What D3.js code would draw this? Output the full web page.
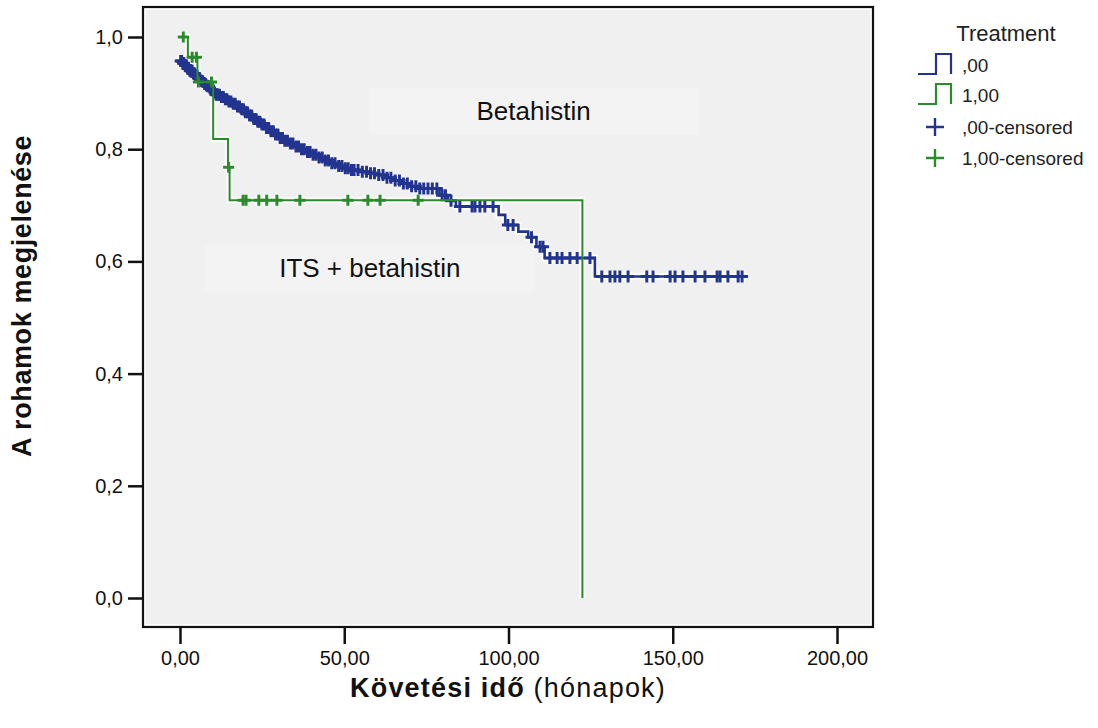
<!DOCTYPE html>
<html><head><meta charset="utf-8">
<script src="https://cdn.jsdelivr.net/npm/d3@7"></script>
<style>body{margin:0;background:#fff;} svg{display:block;font-family:"Liberation Sans",Arial,sans-serif;}</style>
</head><body><svg id="c" width="1098" height="728"></svg>
<script>
// ---- data ----
const xTicks = [0, 50, 100, 150, 200];
const yTicks = [0, 0.2, 0.4, 0.6, 0.8, 1.0];
const groupLabels = [",00", "1,00", ",00-censored", "1,00-censored"];
const annotations = ["Betahistin", "ITS + betahistin"];

const blueTimes = [0,0.8,1.5,2.2,3.0,3.8,4.6,5.5,6.3,7.2,8.0,9.0,10.0,11.0,12.2,13.4,14.5,15.7,17.0,18.3,19.5,20.8,22.0,23.2,24.5,25.8,27.2,28.6,30.0,31.6,33.2,34.8,36.5,38.2,40.0,41.8,43.6,45.5,47.5,49.5,52.0,54.5,57.0,59.5,62.0,64.5,67.0,69.5,72.0,79.0,81.5,84.0,97.0,99.0,103.0,106.0,108.5,111.0,126.3,172.0];
const blueSurv  = [0.957,0.953,0.949,0.944,0.940,0.935,0.930,0.926,0.921,0.916,0.912,0.906,0.901,0.897,0.893,0.889,0.885,0.881,0.876,0.871,0.866,0.860,0.854,0.849,0.844,0.838,0.832,0.826,0.820,0.815,0.810,0.805,0.800,0.795,0.790,0.785,0.780,0.775,0.770,0.766,0.763,0.760,0.757,0.754,0.749,0.744,0.739,0.734,0.730,0.718,0.708,0.698,0.683,0.665,0.653,0.643,0.626,0.606,0.573,0.573];
const blueCensor = [0.2,0.5,0.9,1.2,1.6,1.9,2.3,2.6,3.0,3.3,3.7,4.1,4.4,4.8,5.2,5.8,6.0,6.6,6.9,7.5,7.8,8.4,8.8,9.4,9.9,10.5,11.0,11.5,12.0,12.6,13.2,13.8,14.3,14.9,15.5,16.2,16.8,17.5,18.1,18.8,19.3,19.9,20.5,21.2,21.8,22.5,23.1,23.7,24.3,25.0,25.6,26.3,27.0,27.7,28.4,29.1,29.8,30.5,31.2,31.9,32.7,33.6,34.4,35.3,36.1,37.0,37.8,38.8,39.6,40.5,41.4,42.3,43.3,44.2,45.2,46.2,47.2,48.3,49.3,50.3,51.2,52.2,53.0,54.2,55.5,56.8,58.0,59.2,60.5,61.8,63.0,64.2,65.5,66.8,68.0,69.2,70.5,71.8,73.0,74.2,75.5,76.8,78.2,79.8,80.8,82.5,85.2,88.9,89.8,91.3,92.8,95.3,99.8,101.4,107.0,109.6,110.5,112.6,114.8,116.3,118.7,120.9,124.8,128.4,130.9,132.4,133.9,136.4,142.1,144.0,149.2,150.7,153.1,156.8,159.8,163.5,164.4,166.8,169.9,171.1];

const greenTimes = [0, 2.4, 5.3, 10.1, 14.6, 15.1, 122.5];
const greenSurv  = [1.0, 0.964, 0.920, 0.818, 0.768, 0.709, 0.0];
const greenCensor = [1.0,3.7,5.0,5.6,9.6,14.8,19.2,20.1,24.0,26.4,29.5,36.5,51.1,57.2,60.9,72.5];

// ---- setup ----
const BLUE = "#22348f", GREEN = "#2b8a2b";
const svg = d3.select("#c");
const frame = {x:143, y:7, w:730, h:620};
const x = d3.scaleLinear().domain([0, 200]).range([180, 837]);
const y = d3.scaleLinear().domain([0, 1]).range([598, 37]);

svg.append("rect").attr("x", frame.x).attr("y", frame.y).attr("width", frame.w).attr("height", frame.h)
  .attr("fill", "#fbfbfb");
svg.append("rect").attr("x", frame.x+3).attr("y", frame.y+3).attr("width", frame.w-6).attr("height", frame.h-6)
  .attr("fill", "#f0f0f0");

// annotation boxes
const boxes = [
  {x0: 57.5, x1: 157.8, y0: 0.91, y1: 0.825},
  {x0: 7.6, x1: 108, y0: 0.63, y1: 0.545}
];
boxes.forEach((b, i) => {
  svg.append("rect").attr("x", x(b.x0)).attr("y", y(b.y0))
    .attr("width", x(b.x1) - x(b.x0)).attr("height", y(b.y1) - y(b.y0))
    .attr("fill", "#f3f3f3");
  svg.append("text").attr("x", (x(b.x0) + x(b.x1)) / 2).attr("y", (y(b.y0) + y(b.y1)) / 2)
    .attr("text-anchor", "middle").attr("dominant-baseline", "central")
    .attr("font-size", 26).attr("fill", "#111").text(annotations[i]);
});

// frame
svg.append("rect").attr("x", frame.x).attr("y", frame.y).attr("width", frame.w).attr("height", frame.h)
  .attr("fill", "none").attr("stroke", "#111").attr("stroke-width", 2.2);

// axes
const fmtX = d => d3.format(".2f")(d).replace(".", ",");
const fmtY = d => d3.format(".1f")(d).replace(".", ",");
const ax = svg.append("g").attr("transform", `translate(0,${frame.y + frame.h})`)
  .call(d3.axisBottom(x).tickValues(xTicks).tickSize(17).tickPadding(7).tickFormat(fmtX));
const ay = svg.append("g").attr("transform", `translate(${frame.x},0)`)
  .call(d3.axisLeft(y).tickValues(yTicks).tickSize(15).tickPadding(5).tickFormat(fmtY));
[ax, ay].forEach(g => {
  g.select(".domain").remove();
  g.selectAll(".tick line").attr("stroke", "#111").attr("stroke-width", 2.5);
  g.selectAll(".tick text").attr("fill", "#111").attr("font-size", 20)
    .attr("font-family", '"Liberation Sans",Arial,sans-serif');
});

// axis titles
const xt = svg.append("text").attr("x", 508).attr("y", 697).attr("text-anchor", "middle")
  .attr("font-size", 27).attr("fill", "#111").attr("letter-spacing", 1.2);
xt.append("tspan").attr("font-weight", "bold").text("Követési idő");
xt.append("tspan").text(" (hónapok)");
svg.append("text").attr("transform", "translate(22,296) rotate(-90)")
  .attr("text-anchor", "middle").attr("dominant-baseline", "central")
  .attr("font-size", 27).attr("font-weight", "bold").attr("fill", "#111").attr("letter-spacing", 0.6)
  .text("A rohamok megjelenése");

// curves
function series(times, surv) { return times.map((t, i) => [t, surv[i]]); }
function survAt(times, surv, t) {
  let s = surv[0];
  for (let i = 0; i < times.length; i++) { if (times[i] <= t) s = surv[i]; }
  return s;
}
const line = d3.line().x(d => x(d[0])).y(d => y(d[1])).curve(d3.curveStepAfter);
const groups = [
  {times: blueTimes, surv: blueSurv, cens: blueCensor, color: BLUE, w: 2.6, ps: 6},
  {times: greenTimes, surv: greenSurv, cens: greenCensor, color: GREEN, w: 2, ps: 5.5}
];
groups.forEach(g => {
  const pts = series(g.times, g.surv);
  svg.append("path").attr("d", line(pts)).attr("fill", "none")
    .attr("stroke", "#fff").attr("stroke-width", g.w + 4).attr("stroke-opacity", 0.8);
  g.cens.forEach(t => {
    const cx = x(t), cy = y(survAt(g.times, g.surv, t));
    svg.append("path").attr("d", `M${cx-g.ps},${cy}H${cx+g.ps}M${cx},${cy-g.ps}V${cy+g.ps}`)
      .attr("stroke", "#fff").attr("stroke-width", 6.5).attr("stroke-opacity", 0.8);
  });
});
groups.forEach(g => {
  const pts = series(g.times, g.surv);
  svg.append("path").attr("d", line(pts)).attr("fill", "none")
    .attr("stroke", g.color).attr("stroke-width", g.w);
  g.cens.forEach(t => {
    const cx = x(t), cy = y(survAt(g.times, g.surv, t));
    svg.append("path").attr("d", `M${cx-g.ps},${cy}H${cx+g.ps}M${cx},${cy-g.ps}V${cy+g.ps}`)
      .attr("stroke", g.color).attr("stroke-width", 3);
  });
});

// legend
const lg = svg.append("g");
lg.append("text").attr("x", 1006).attr("y", 33).attr("text-anchor", "middle")
  .attr("dominant-baseline", "central").attr("font-size", 22).attr("fill", "#222").text("Treatment");
const rows = [65, 95, 127, 158];
const colors = [BLUE, GREEN, BLUE, GREEN];
rows.forEach((ry, i) => {
  if (i < 2) {
    lg.append("path").attr("d", `M918,${ry+9}H936V${ry-11}H951V${ry+9}`)
      .attr("fill", "none").attr("stroke", colors[i]).attr("stroke-width", 2.2);
  } else {
    lg.append("path").attr("d", `M926,${ry}H944M935,${ry-9}V${ry+9}`)
      .attr("stroke", colors[i]).attr("stroke-width", 2.4);
  }
  lg.append("text").attr("x", 962).attr("y", ry).attr("dominant-baseline", "central")
    .attr("font-size", 19).attr("fill", "#222").text(groupLabels[i]);
});
</script></body></html>
